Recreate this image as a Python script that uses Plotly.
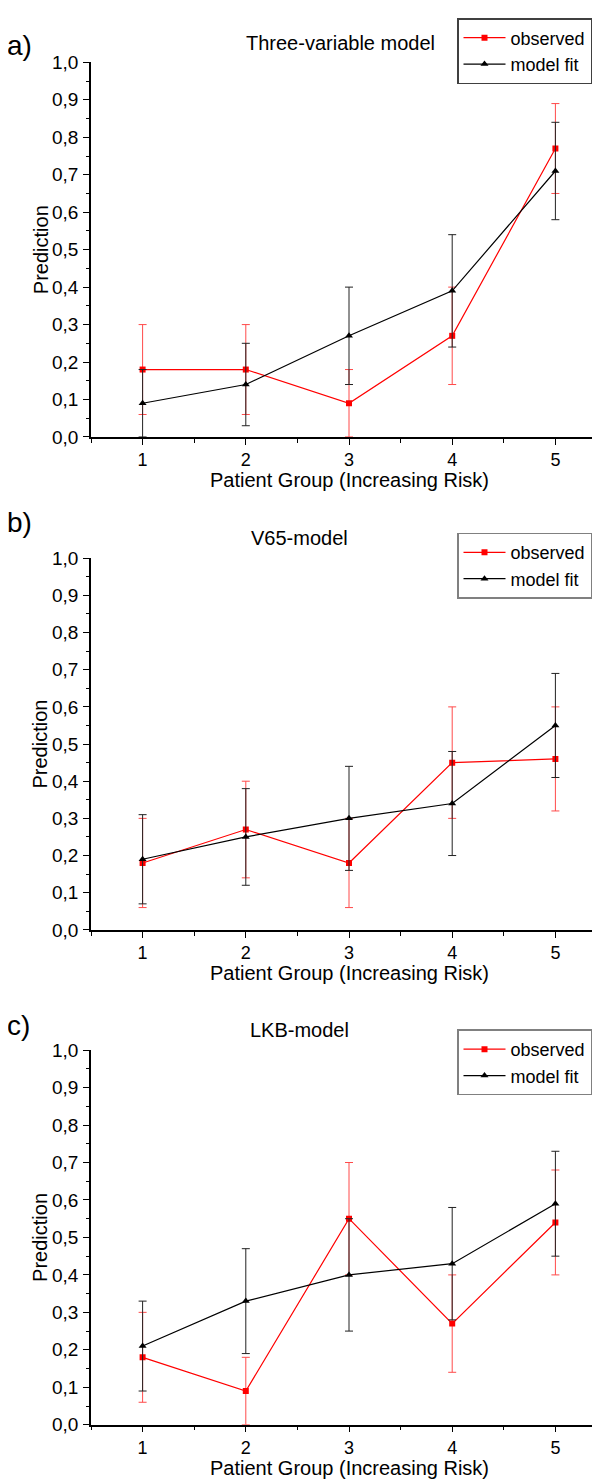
import plotly.graph_objects as go

# ---------------- data ----------------
groups = [1, 2, 3, 4, 5]
x_ticks = [1, 2, 3, 4, 5]
y_ticks = [0.0, 0.1, 0.2, 0.3, 0.4, 0.5, 0.6, 0.7, 0.8, 0.9, 1.0]

panel_labels = ["a)", "b)", "c)"]
panel_titles = ["Three-variable model", "V65-model", "LKB-model"]
series_names = ["observed", "model fit"]
x_title = "Patient Group (Increasing Risk)"
y_title = "Prediction"

# panel a: three-variable model
obs_a = [0.18, 0.18, 0.09, 0.27, 0.77]
obs_a_err = [0.12, 0.12, 0.09, 0.13, 0.12]
fit_a = [0.09, 0.14, 0.27, 0.39, 0.71]
fit_a_err = [0.09, 0.11, 0.13, 0.15, 0.13]

# panel b: V65-model
obs_b = [0.18, 0.27, 0.18, 0.45, 0.46]
obs_b_err = [0.12, 0.13, 0.12, 0.15, 0.14]
fit_b = [0.19, 0.25, 0.30, 0.34, 0.55]
fit_b_err = [0.12, 0.13, 0.14, 0.14, 0.14]

# panel c: LKB-model
obs_c = [0.18, 0.09, 0.55, 0.27, 0.54]
obs_c_err = [0.12, 0.09, 0.15, 0.13, 0.14]
fit_c = [0.21, 0.33, 0.40, 0.43, 0.59]
fit_c_err = [0.12, 0.14, 0.15, 0.15, 0.14]

panels = [
    (obs_a, obs_a_err, fit_a, fit_a_err),
    (obs_b, obs_b_err, fit_b, fit_b_err),
    (obs_c, obs_c_err, fit_c, fit_c_err),
]

# ---------------- layout geometry (pixels) ----------------
W, H = 600, 1479
FONT = "Liberation Sans, Arial, Helvetica, sans-serif"
plot_left, plot_right = 83, 599
# (top of y=1.0, bottom y=0.0)
plot_tb = [(45, 425), (548, 925), (1047, 1427)]
title_pos = [(332, 25), (291, 527), (291, 1027)]
label_y = [28, 512, 1022]
legend_top = [0, 522, 1026]
legend_border = ["#404040", "#808080", "#808080"]

RED = "#ff0000"
RED_ERR = "#ff4a4a"
BLACK = "#000000"
BLACK_ERR = "#222222"


def py(p):
    return 1 - p / H


fig = go.Figure()
annotations = []

for i, (obs, obs_err, fit, fit_err) in enumerate(panels):
    sfx = "" if i == 0 else str(i + 1)
    xa, ya = "x" + sfx, "y" + sfx
    leg = "legend" + sfx
    fig.add_trace(go.Scatter(
        x=groups, y=obs, name=series_names[0], xaxis=xa, yaxis=ya, legend=leg,
        mode="lines+markers",
        line=dict(color=RED, width=1.2),
        marker=dict(symbol="square", size=6, color=RED),
        error_y=dict(type="data", array=obs_err, symmetric=True,
                     color=RED_ERR, thickness=1, width=4),
    ))
    fig.add_trace(go.Scatter(
        x=groups, y=fit, name=series_names[1], xaxis=xa, yaxis=ya, legend=leg,
        mode="lines+markers",
        line=dict(color=BLACK, width=1.2),
        marker=dict(symbol="triangle-up", size=7, color=BLACK),
        error_y=dict(type="data", array=fit_err, symmetric=True,
                     color=BLACK_ERR, thickness=1, width=4),
    ))

    top, bot = plot_tb[i]
    fig.update_layout({
        "xaxis" + sfx: dict(
            domain=[plot_left / W, plot_right / W], anchor=ya,
            range=[0.5, 5.5], tickvals=x_ticks, ticks="outside",
            ticklen=6, tickwidth=1.2, tickcolor="black",
            showline=True, linecolor="black", linewidth=1.5,
            showgrid=False, zeroline=False,
            tickfont=dict(family=FONT, size=18, color="black"),
            ticklabelstandoff=0,
            minor=dict(ticks="outside", ticklen=4, tickwidth=1.2, tickcolor="black",
                       tick0=0.5, dtick=0.5, showgrid=False),
        ),
        "yaxis" + sfx: dict(
            domain=[py(bot), py(top)], anchor=xa,
            range=[0, 1.0], tickvals=y_ticks, tickformat=".1f", ticks="outside",
            ticklen=6, tickwidth=1.2, tickcolor="black",
            showline=True, linecolor="black", linewidth=1.5,
            showgrid=False, zeroline=False,
            tickfont=dict(family=FONT, size=19, color="black"),
            ticklabelstandoff=1,
            minor=dict(ticks="outside", ticklen=3, tickwidth=1.2, tickcolor="black",
                       tick0=0, dtick=0.05, showgrid=False),
        ),
        leg: dict(
            x=449 / W, y=py(legend_top[i]), xanchor="left", yanchor="top",
            bgcolor="white", bordercolor=legend_border[i], borderwidth=1.5,
            font=dict(family=FONT, size=18, color="black"),
            itemwidth=42, tracegroupgap=0,
        ),
    })

    # panel title
    tx, ty = title_pos[i]
    annotations.append(dict(
        text=panel_titles[i], x=tx / W, y=py(ty), xref="paper", yref="paper",
        xanchor="center", yanchor="middle", showarrow=False,
        font=dict(family=FONT, size=20, color="black")))
    # panel letter
    annotations.append(dict(
        text=panel_labels[i], x=0, y=py(label_y[i]), xref="paper", yref="paper",
        xanchor="left", yanchor="middle", showarrow=False, xshift=-3,
        font=dict(family=FONT, size=28, color="black")))
    # y axis title
    annotations.append(dict(
        text=y_title, x=32.5 / W, y=py((top + bot) / 2), xref="paper", yref="paper",
        xanchor="center", yanchor="middle", showarrow=False, textangle=-90,
        font=dict(family=FONT, size=20, color="black")))
    # x axis title
    annotations.append(dict(
        text=x_title, x=(plot_left + plot_right) / 2 / W, y=py(bot + 44),
        xref="paper", yref="paper",
        xanchor="center", yanchor="middle", showarrow=False,
        font=dict(family=FONT, size=20, color="black")))

fig.update_layout(
    width=W, height=H,
    margin=dict(l=0, r=0, t=0, b=0),
    paper_bgcolor="white", plot_bgcolor="white",
    separators=",.",
    font=dict(family=FONT, color="black"),
    annotations=annotations,
    showlegend=True,
)

fig.write_html("out.html")
